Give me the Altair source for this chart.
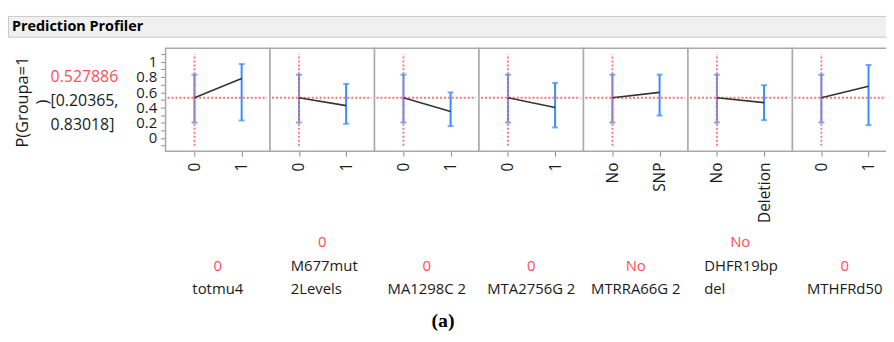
import altair as alt
import pandas as pd

# ---------------- data ----------------
panel_title = "Prediction Profiler"
figure_label = "(a)"
response_title = ["P(Groupa=1", ")"]
factor_names = ["totmu4", "M677mut\n2Levels", "MA1298C 2", "MTA2756G 2",
                "MTRRA66G 2", "DHFR19bp\ndel", "MTHFRd50"]
level_labels = [["0", "1"], ["0", "1"], ["0", "1"], ["0", "1"],
                ["No", "SNP"], ["No", "Deletion"], ["0", "1"]]
current_level = ["0", "0", "0", "0", "No", "No", "0"]
pred_current = 0.527886
ci_current = [0.20365, 0.83018]
pred_level1 = [0.779, 0.425, 0.347, 0.399, 0.598, 0.464, 0.680]
lo_level1 = [0.230, 0.187, 0.156, 0.139, 0.295, 0.234, 0.169]
hi_level1 = [0.970, 0.710, 0.598, 0.723, 0.832, 0.693, 0.957]
y_ticks = [-0.1, 0.0, 0.1, 0.2, 0.3, 0.4, 0.5, 0.6, 0.7, 0.8, 0.9, 1.0, 1.1]
y_labelled = [0.0, 0.2, 0.4, 0.6, 0.8, 1.0]

# ---------------- layout / style ----------------
PLOT_W, PLOT_H = 727, 104
UNIT_PX = 47.6          # pixels per level step
SPAN = 2.215            # panel width in level units
LEFT_OFF = 0.613        # panel left edge relative to first level
Y0_PX, Y_PX = 90.7, 77.0
x_dom = [-LEFT_OFF, -LEFT_OFF + PLOT_W / UNIT_PX]
y_dom = [-(PLOT_H - Y0_PX) / Y_PX, Y0_PX / Y_PX]

RED_TXT = "#ff4d5b"
RED_DOT = "#ff6f7a"
BLUE = "#3b8bff"
BLACK = "#1a1a1a"
BORDER = "#a9a9a9"
FONT = "Open Sans"

n = len(factor_names)

# ---------------- tables ----------------
pts = []
for i in range(n):
    for j in (0, 1):
        pts.append(dict(
            panel=i, x=i * SPAN + j,
            p=pred_current if j == 0 else pred_level1[i],
            lo=ci_current[0] if j == 0 else lo_level1[i],
            hi=ci_current[1] if j == 0 else hi_level1[i]))
pts = pd.DataFrame(pts)

pan = []
for i in range(n):
    left = i * SPAN - LEFT_OFF
    pan.append(dict(panel=i, left=left, right=left + SPAN,
                    hx1=left + 2 / UNIT_PX, hx2=left + SPAN - 3 / UNIT_PX,
                    vx=i * SPAN, vy1=y_ticks[0], vy2=y_ticks[-1],
                    pred=pred_current))
pan = pd.DataFrame(pan)

txt = []
for i in range(n):
    center = i * SPAN - LEFT_OFF + SPAN / 2
    lines = factor_names[i].split("\n")
    nl = len(lines)
    maxlen = max(len(s) for s in lines)
    for li, line in enumerate(lines):
        if nl == 1:
            txt.append(dict(text=line, k=0, align="center", tx=center, role="name"))
        else:
            txt.append(dict(text=line, k=nl - 1 - li, align="left",
                            tx=center - maxlen * 4.55 / UNIT_PX, role="name"))
    txt.append(dict(text=current_level[i], k=nl, align="center", tx=center, role="value"))
txt = pd.DataFrame(txt)

left_txt = pd.DataFrame(dict(
    text=[f"{pred_current}", f"[{ci_current[0]},", f"{ci_current[1]}]"],
    role=["value", "name", "name"], row=[0, 1, 2]))

# ---------------- scales / axes ----------------
tick_vals = [round(i * SPAN + j, 4) for i in range(n) for j in (0, 1)]
tick_labs = [level_labels[i][j] for i in range(n) for j in (0, 1)]
expr = f"'{tick_labs[-1]}'"
for v, lab in reversed(list(zip(tick_vals[:-1], tick_labs[:-1]))):
    expr = f"datum.value < {v + 0.5:.4f} ? '{lab}' : ({expr})"

xscale = alt.Scale(domain=x_dom, nice=False, zero=False)
yscale = alt.Scale(domain=y_dom, nice=False, zero=False)

xaxis = alt.Axis(values=tick_vals, labelExpr=expr, title=None, grid=False, domain=False,
                 labelAngle=270, labelAlign="right", labelBaseline="middle",
                 labelPadding=6, tickSize=5, tickColor="#8c8c8c",
                 labelFont=FONT, labelFontSize=15.5, labelColor=BLACK,
                 labelOverlap=False, labelFlush=False)
ylab_set = ",".join(str(v) for v in y_labelled)
yaxis = alt.Axis(values=y_ticks,
                 labelExpr="indexof([" + ylab_set + "], datum.value) >= 0 ? format(datum.value, '~g') : ''",
                 title=response_title, grid=False, domain=False, tickSize=5,
                 tickColor="#8c8c8c", labelPadding=4, labelFont=FONT, labelFontSize=15,
                 labelColor=BLACK, labelOverlap=False, labelFlush=False,
                 titleFont=FONT, titleFontSize=16.5, titleFontWeight="normal",
                 titleColor=BLACK, titleAngle=270, titleAlign="center",
                 titleBaseline="middle", titleLineHeight=20,
                 titleX=-144, titleY=54)

X = lambda f: alt.X(f, scale=xscale, axis=xaxis)
Y = lambda f: alt.Y(f, scale=yscale, axis=yaxis)

# ---------------- layers ----------------
panels = alt.Chart(pan).mark_rect(fill="white", stroke=BORDER, strokeWidth=1.5).encode(
    x=X("left:Q"), x2="right:Q", y=alt.value(0), y2=alt.value(PLOT_H))

bars = alt.Chart(pts).mark_rule(color=BLUE, strokeWidth=2).encode(
    x=X("x:Q"), y=Y("lo:Q"), y2="hi:Q")
cap_lo = alt.Chart(pts).mark_tick(color=BLUE, orient="horizontal", size=6, thickness=2).encode(
    x=X("x:Q"), y=Y("lo:Q"))
cap_hi = alt.Chart(pts).mark_tick(color=BLUE, orient="horizontal", size=6, thickness=2).encode(
    x=X("x:Q"), y=Y("hi:Q"))

hdot = alt.Chart(pan).mark_rule(color=RED_DOT, strokeWidth=1.8, strokeDash=[2, 2]).encode(
    x=X("hx1:Q"), x2="hx2:Q", y=Y("pred:Q"))
vdot = alt.Chart(pan).mark_rule(color=RED_DOT, strokeWidth=1.8, strokeDash=[2, 2]).encode(
    x=X("vx:Q"), y=Y("vy1:Q"), y2="vy2:Q")

line = alt.Chart(pts).mark_line(color="#333333", strokeWidth=1.6).encode(
    x=X("x:Q"), y=Y("p:Q"), detail="panel:N")

color_enc = alt.Color("role:N", scale=alt.Scale(domain=["value", "name"], range=[RED_TXT, BLACK]),
                      legend=None)

ROW0, LINE_H = 243, 23.5
text_layers = []
for (k, align) in sorted(set(zip(txt["k"], txt["align"]))):
    text_layers.append(
        alt.Chart(txt).transform_filter(
            f"datum.k == {k} && datum.align == '{align}'"
        ).mark_text(align=align, baseline="middle", font=FONT, fontSize=15).encode(
            x=X("tx:Q"), y=alt.value(ROW0 - LINE_H * k), text="text:N", color=color_enc))

left_layers = []
for r in range(3):
    left_layers.append(
        alt.Chart(left_txt).transform_filter(f"datum.row == {r}").mark_text(
            align="left", baseline="middle", font=FONT, fontSize=16).encode(
            x=alt.value(-116), y=alt.value(29 + 24.5 * r), text="text:N", color=color_enc))

title_df = pd.DataFrame(dict(text=[panel_title]))
title_box = alt.Chart(title_df).mark_rect(fill="#f0f0f0", stroke="#c8c8c8", strokeWidth=1).encode(
    x=alt.value(-158.5), x2=alt.value(PLOT_W + 5), y=alt.value(-32), y2=alt.value(-11))
title_txt = alt.Chart(title_df).mark_text(align="left", baseline="middle", font=FONT,
                                          fontSize=14.5, fontWeight="bold", color="#000000").encode(
    x=alt.value(-155), y=alt.value(-21.5), text="text:N")

fig_df = pd.DataFrame(dict(text=[figure_label]))
fig_txt = alt.Chart(fig_df).mark_text(align="center", baseline="middle", font="Liberation Serif",
                                      fontSize=20, fontWeight="bold", color="#000000").encode(
    x=alt.value(280), y=alt.value(275), text="text:N")

chart = alt.layer(
    panels, bars, cap_lo, cap_hi, hdot, vdot, line,
    *text_layers, *left_layers, title_box, title_txt, fig_txt
).properties(
    width=PLOT_W, height=PLOT_H,
    autosize=alt.AutoSizeParams(type="none"),
    padding={"left": 159, "top": 39, "right": 0, "bottom": 191},
    background="white",
).configure_view(strokeWidth=0)

chart.save("out.html", embed_options={"renderer": "svg", "actions": False})
